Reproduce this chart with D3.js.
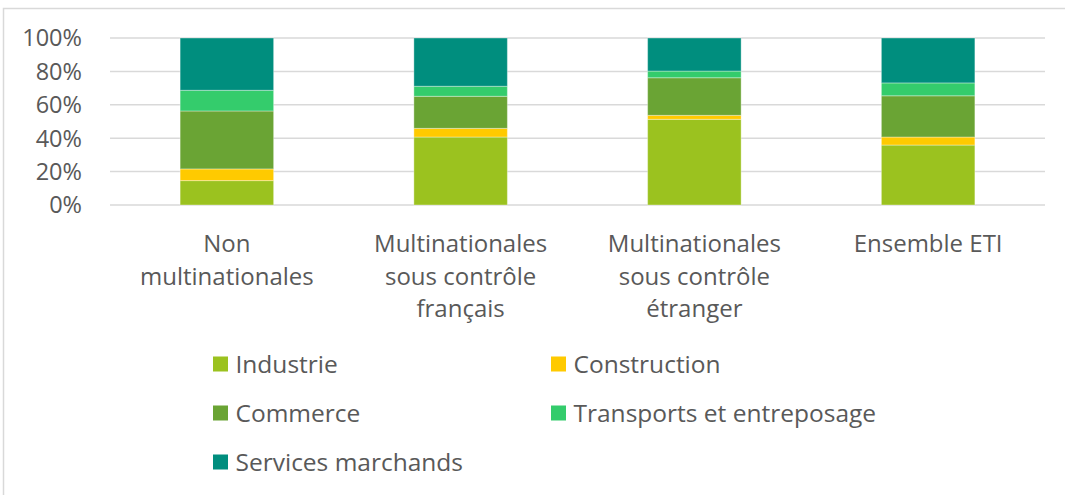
<!DOCTYPE html>
<html>
<head>
<meta charset="utf-8">
<script src="https://cdn.jsdelivr.net/npm/d3@7"></script>
<style>
  html, body { margin: 0; padding: 0; background: #fff; }
  svg { display: block; font-family: "Open Sans", sans-serif; }
</style>
</head>
<body>
<svg id="chart" width="1065" height="495"></svg>
<script>
// categories (axis labels split on lines)
var categories = ["Non multinationales", "Multinationales sous contrôle français", "Multinationales sous contrôle étranger", "Ensemble ETI"];
var catLines = [["Non", "multinationales"], ["Multinationales", "sous contrôle", "français"], ["Multinationales", "sous contrôle", "étranger"], ["Ensemble ETI"]];

// series, in stacking order (shares in %)
var seriesNames = ["Industrie", "Construction", "Commerce", "Transports et entreposage", "Services marchands"];
var industrie    = [14.6, 40.7, 51.3, 35.9];
var construction = [7.0, 5.2, 2.4, 4.8];
var commerce     = [34.7, 19.2, 22.5, 24.7];
var transports   = [12.4, 6.0, 4.0, 7.7];
var services     = [31.3, 28.9, 19.8, 26.9];
var colors = ["#9bc21f", "#ffca00", "#6aa434", "#34cc6c", "#008e7e"];

var yTicks = [0, 20, 40, 60, 80, 100];

var svg = d3.select("#chart");

// frame
svg.append("rect")
  .attr("x", 3.5).attr("y", 8.5)
  .attr("width", 1080).attr("height", 500)
  .attr("fill", "none").attr("stroke", "#d9d9d9").attr("stroke-width", 1.5);

var x = d3.scaleBand().domain(categories).range([110, 1045]).paddingInner(0.6).paddingOuter(0.3);
var y = d3.scaleLinear().domain([0, 100]).range([205, 38]);

// grid
svg.append("g").selectAll("line")
  .data(yTicks).enter().append("line")
  .attr("x1", 110).attr("x2", 1045)
  .attr("y1", function(d){ return y(d) }).attr("y2", function(d){ return y(d) })
  .attr("stroke", "#d9d9d9").attr("stroke-width", 1.5);

// y labels
svg.append("g").selectAll("text")
  .data(yTicks).enter().append("text")
  .attr("x", 82).attr("y", function(d){ return y(d) })
  .attr("dy", "0.36em")
  .attr("text-anchor", "end")
  .attr("fill", "#595959").attr("font-size", 23.5)
  .text(function(d){ return d + "%" });

// stacked bars
var table = categories.map(function(c, i){
  return { cat: c, s0: industrie[i], s1: construction[i], s2: commerce[i], s3: transports[i], s4: services[i] };
});
var stack = d3.stack().keys(["s0", "s1", "s2", "s3", "s4"])(table);

svg.append("g").selectAll("g")
  .data(stack).enter().append("g")
  .attr("fill", function(d, i){ return colors[i] })
  .selectAll("rect")
  .data(function(d){ return d }).enter().append("rect")
  .attr("x", function(d){ return x(d.data.cat) })
  .attr("width", x.bandwidth())
  .attr("y", function(d){ return y(d[1]) })
  .attr("height", function(d){ return y(d[0]) - y(d[1]) })
  .attr("stroke", "#ffffff").attr("stroke-opacity", 0.35).attr("stroke-width", 1);

// category labels
var cl = svg.append("g").selectAll("text")
  .data(categories).enter().append("text")
  .attr("x", function(d){ return x(d) + x.bandwidth() / 2 })
  .attr("y", 252)
  .attr("text-anchor", "middle")
  .attr("fill", "#595959").attr("font-size", 24);
cl.each(function(d, i){
  var t = d3.select(this);
  catLines[i].forEach(function(line, j){
    t.append("tspan").attr("x", x(d) + x.bandwidth() / 2).attr("dy", j === 0 ? 0 : 32.5).text(line);
  });
});

// legend
var legendX = [213, 551];
var legendY = [364, 413, 462];
var lg = svg.append("g").selectAll("g")
  .data(seriesNames).enter().append("g")
  .attr("transform", function(d, i){ return "translate(" + legendX[i % 2] + "," + legendY[Math.floor(i / 2)] + ")" });
lg.append("rect")
  .attr("x", 0).attr("y", -7.5).attr("width", 15).attr("height", 15)
  .attr("fill", function(d, i){ return colors[i] });
lg.append("text")
  .attr("x", 22.5).attr("y", 0).attr("dy", "0.36em")
  .attr("fill", "#595959").attr("font-size", 24.5)
  .text(function(d){ return d });
</script>
</body>
</html>
